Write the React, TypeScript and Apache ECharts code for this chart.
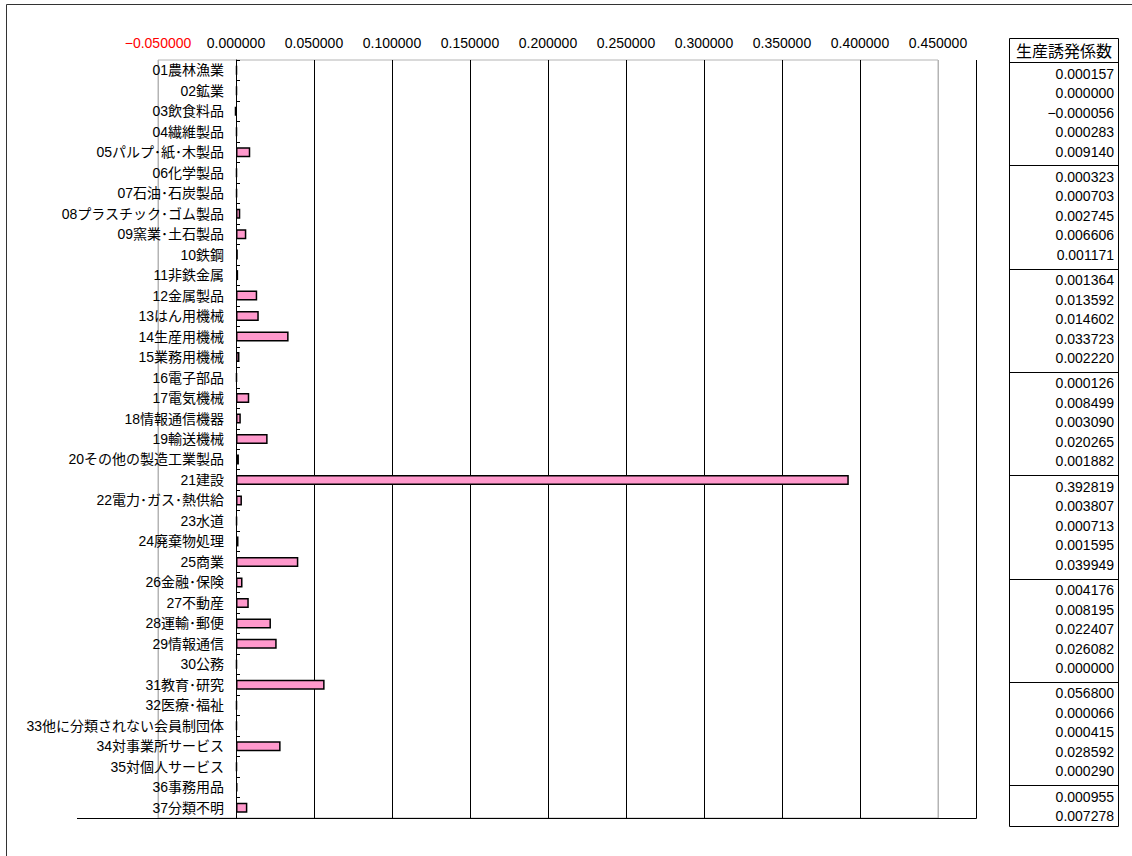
import React, { useEffect, useRef } from 'react';
import * as echarts from 'echarts';

const categories = [
  '01農林漁業', '02鉱業', '03飲食料品', '04繊維製品', '05パルプ･紙･木製品',
  '06化学製品', '07石油･石炭製品', '08プラスチック･ゴム製品', '09窯業･土石製品', '10鉄鋼',
  '11非鉄金属', '12金属製品', '13はん用機械', '14生産用機械', '15業務用機械',
  '16電子部品', '17電気機械', '18情報通信機器', '19輸送機械', '20その他の製造工業製品',
  '21建設', '22電力･ガス･熱供給', '23水道', '24廃棄物処理', '25商業',
  '26金融･保険', '27不動産', '28運輸･郵便', '29情報通信', '30公務',
  '31教育･研究', '32医療･福祉', '33他に分類されない会員制団体', '34対事業所サービス', '35対個人サービス',
  '36事務用品', '37分類不明',
];

const values = [
  0.000157, 0.000000, -0.000056, 0.000283, 0.009140,
  0.000323, 0.000703, 0.002745, 0.006606, 0.001171,
  0.001364, 0.013592, 0.014602, 0.033723, 0.002220,
  0.000126, 0.008499, 0.003090, 0.020265, 0.001882,
  0.392819, 0.003807, 0.000713, 0.001595, 0.039949,
  0.004176, 0.008195, 0.022407, 0.026082, 0.000000,
  0.056800, 0.000066, 0.000415, 0.028592, 0.000290,
  0.000955, 0.007278,
];

const tableTitle = '生産誘発係数';
const axisMin = -0.05;
const axisMax = 0.45;
const axisStep = 0.05;

const fmt = (v: number) => (v < 0 ? '\u2212' : '') + Math.abs(v).toFixed(6);

const NUM_FONT = '"Liberation Sans", Arial, "Noto Sans CJK JP", sans-serif';
const JP_FONT = '"Liberation Sans", "Noto Sans CJK JP", sans-serif';

export default function App() {
  const ref = useRef<HTMLDivElement>(null);

  useEffect(() => {
    if (!ref.current) return;
    const chart = echarts.init(ref.current, undefined, { renderer: 'svg' });

    const gridLeft = 158;
    const gridRight = 938;
    const gridTop = 60;
    const gridBottom = 818;
    const zeroX = gridLeft + ((0 - axisMin) / (axisMax - axisMin)) * (gridRight - gridLeft);

    // table layout
    const tX0 = 1009;
    const tX1 = 1118;
    const tTop = 38;
    const tHead = 62;
    const tBottom = 826;
    const groupH = 103.3;
    const rowH = 19.5;
    const graphic: any[] = [];

    // outer frame
    graphic.push({ type: 'line', shape: { x1: 6.5, y1: 4.5, x2: 1132, y2: 4.5 }, style: { stroke: '#333', lineWidth: 1 } });
    graphic.push({ type: 'line', shape: { x1: 6.5, y1: 4.5, x2: 6.5, y2: 856 }, style: { stroke: '#333', lineWidth: 1 } });
    // bottom and right chart lines
    graphic.push({ type: 'line', z: 10, shape: { x1: 77, y1: gridBottom + 0.5, x2: 976.5, y2: gridBottom + 0.5 }, style: { stroke: '#000', lineWidth: 1 } });
    graphic.push({ type: 'line', z: 10, shape: { x1: 976.5, y1: gridTop, x2: 976.5, y2: gridBottom + 0.5 }, style: { stroke: '#000', lineWidth: 1 } });

    // table
    graphic.push({ type: 'rect', shape: { x: tX0 + 0.5, y: tTop + 0.5, width: tX1 - tX0, height: tBottom - tTop }, style: { fill: '#fff', stroke: '#000', lineWidth: 1 } });
    graphic.push({ type: 'line', shape: { x1: tX0, y1: tHead + 0.5, x2: tX1, y2: tHead + 0.5 }, style: { stroke: '#000', lineWidth: 1 } });
    graphic.push({
      type: 'text', x: (tX0 + tX1) / 2 + 0.5, y: (tTop + tHead) / 2 + 1,
      style: { text: tableTitle, fill: '#000', font: `16px ${JP_FONT}`, textAlign: 'center', textVerticalAlign: 'middle' },
    });
    const groups = Math.ceil(values.length / 5);
    for (let g = 1; g < groups; g++) {
      const y = Math.round(tHead + g * groupH) + 0.5;
      graphic.push({ type: 'line', shape: { x1: tX0, y1: y, x2: tX1, y2: y }, style: { stroke: '#000', lineWidth: 1 } });
    }
    values.forEach((v, i) => {
      const g = Math.floor(i / 5);
      const r = i % 5;
      const y = tHead + g * groupH + 11.5 + r * rowH;
      graphic.push({
        type: 'text', x: tX1 - 4, y,
        style: { text: fmt(v), fill: '#000', font: `14px ${NUM_FONT}`, textAlign: 'right', textVerticalAlign: 'middle' },
      });
    });

    const splitColors: string[] = [];
    const nTicks = Math.round((axisMax - axisMin) / axisStep) + 1;
    for (let i = 0; i < nTicks; i++) splitColors.push(i === 0 || i === nTicks - 1 ? '#b4b4b4' : '#000');

    chart.setOption({
      animation: false,
      backgroundColor: '#fff',
      grid: [
        {
          left: gridLeft,
          right: 1132 - gridRight,
          top: gridTop,
          bottom: 856 - gridBottom,
          show: true,
          borderColor: '#b4b4b4',
          borderWidth: 1,
          containLabel: false,
          outerBoundsMode: 'none',
        },
        {
          left: zeroX,
          right: 1132 - gridRight,
          top: gridTop,
          bottom: 856 - gridBottom,
          show: false,
          containLabel: false,
          outerBoundsMode: 'none',
        },
      ],
      xAxis: [
        {
          type: 'value',
          gridIndex: 0,
          position: 'top',
          min: axisMin,
          max: axisMax,
          interval: axisStep,
          axisLine: { show: false },
          axisTick: { show: false },
          splitLine: { show: true, lineStyle: { color: splitColors, width: 1 } },
          axisLabel: {
            margin: 10,
            fontSize: 14,
            fontFamily: NUM_FONT,
            formatter: (v: number) => fmt(v),
            color: (v: any) => (Number(v) < 0 ? '#FF0000' : '#000'),
          },
        },
        {
          type: 'value',
          gridIndex: 1,
          min: 0,
          max: axisMax,
          show: false,
          splitLine: { show: false },
        },
      ],
      yAxis: [
        {
          type: 'category',
          gridIndex: 0,
          inverse: true,
          data: categories,
          show: false,
          axisLine: { show: false, onZero: false },
          splitLine: { show: false },
        },
        {
          type: 'category',
          gridIndex: 1,
          inverse: true,
          data: categories,
          position: 'left',
          z: 5,
          axisLine: { show: true, onZero: false, lineStyle: { color: '#000', width: 1 } },
          axisTick: { show: true, inside: true, length: 4, lineStyle: { color: '#000' } },
          axisLabel: { margin: 12, fontSize: 14, color: '#000', fontFamily: JP_FONT },
          splitLine: { show: false },
        },
      ],
      series: [
        {
          type: 'bar',
          xAxisIndex: 0,
          yAxisIndex: 0,
          data: values,
          barWidth: 10,
          barMinHeight: 1,
          z: 3,
          itemStyle: { color: '#FF99CC', borderColor: '#000', borderWidth: 1.5 },
        },
      ],
      graphic,
    });

    return () => chart.dispose();
  }, []);

  return <div ref={ref} style={{ position: 'fixed', left: 0, top: 0, width: 1132, height: 856, background: '#fff' }} />;
}
